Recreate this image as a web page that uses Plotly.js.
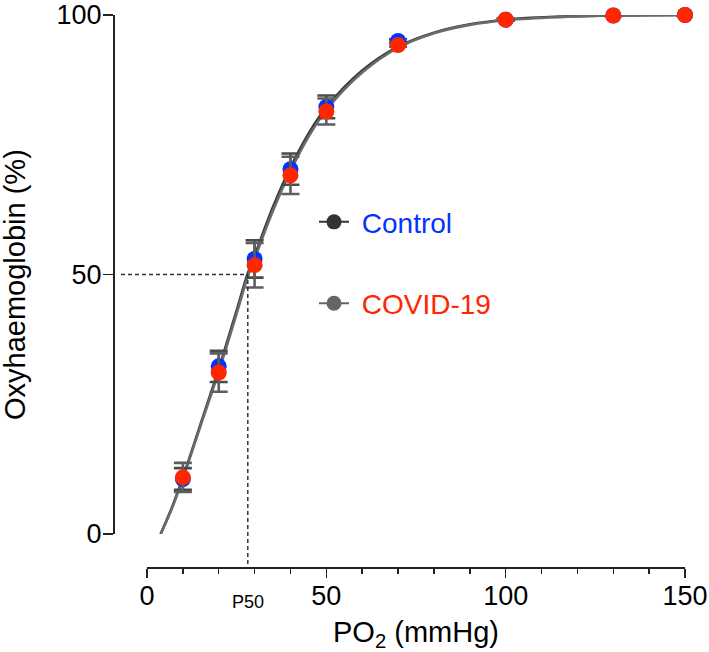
<!DOCTYPE html>
<html>
<head>
<meta charset="utf-8">
<script src="https://cdn.plot.ly/plotly-3.0.1.min.js"></script>
<style>html,body{margin:0;padding:0;background:#fff;}#chart{width:709px;height:652px;}</style>
</head>
<body>
<div id="chart"></div>
<script>
// ---- data ----
const po2 = [10, 20, 30, 40, 50, 70, 100, 130, 150];
const controlSat = [10.6, 32.3, 53.0, 70.3, 82.3, 95.0, 99.1, 99.9, 100];
const controlErr = [2.1, 3.0, 3.6, 3.0, 2.2, 0.3, 0.2, 0.1, 0.1];
const covidSat = [10.9, 31.1, 51.8, 69.1, 81.4, 94.2, 99.1, 99.9, 100];
const covidErr = [2.8, 3.7, 4.3, 3.6, 2.5, 0.3, 0.2, 0.1, 0.1];

const curveX = [3.8, 7, 10, 15, 20, 25, 28, 30, 35, 40, 45, 50, 60, 70, 80, 90, 100, 115, 130, 150];
const controlCurveY = [0, 5.2, 10.9, 21.3, 31.8, 43.1, 50.0, 53.6, 62.8, 70.6, 77.1, 82.2, 89.3, 93.9, 96.6, 98.2, 99.1, 99.7, 99.9, 100];
const covidCurveY   = [0, 5.0, 10.7, 21.0, 31.3, 42.5, 49.4, 53.0, 62.1, 69.9, 76.5, 81.7, 88.9, 93.7, 96.5, 98.1, 99.0, 99.6, 99.9, 100];

const p50 = 28.1;
const seriesNames = ['Control', 'COVID-19'];
const xTicks = [0, 50, 100, 150];
const yTicks = [0, 50, 100];
const xTitle = 'PO<sub>2</sub> (mmHg)';
const yTitle = 'Oxyhaemoglobin (%)';

// ---- layout constants ----
const W = 709, H = 652;
const M = {l: 113, r: 24, t: 15, b: 85};
const plotW = W - M.l - M.r, plotH = H - M.t - M.b;
const xDom0 = 34 / plotW, yDom0 = 33 / plotH;
const xRange = [0, 150], yRange = [0, 100];
const FONT = 'Liberation Sans, Arial, Helvetica, sans-serif';
const BLUE = '#0433FF', RED = '#FF2600';

function xPaper(v) { return xDom0 + (v - xRange[0]) / (xRange[1] - xRange[0]) * (1 - xDom0); }
function yPaper(v) { return yDom0 + (v - yRange[0]) / (yRange[1] - yRange[0]) * (1 - yDom0); }

const traces = [
  {x: curveX, y: controlCurveY, mode: 'lines', line: {color: '#3a3a3a', width: 2.6, shape: 'spline', smoothing: 1}, showlegend: false, hoverinfo: 'skip'},
  {x: curveX, y: covidCurveY, mode: 'lines', line: {color: '#6a6a6a', width: 2.6, shape: 'spline', smoothing: 1}, showlegend: false, hoverinfo: 'skip'},
  {x: po2, y: controlSat, mode: 'markers', marker: {color: BLUE, size: 16}, cliponaxis: false,
   error_y: {type: 'data', array: controlErr, visible: true, color: '#4a4a4a', thickness: 2.6, width: 9}, showlegend: false},
  {x: po2, y: covidSat, mode: 'markers', marker: {color: RED, size: 16}, cliponaxis: false,
   error_y: {type: 'data', array: covidErr, visible: true, color: '#5e5e5e', thickness: 2.6, width: 9}, showlegend: false},
  {x: [null], y: [null], mode: 'lines+markers', name: '<span style="color:' + BLUE + '">\u00a0' + seriesNames[0] + '</span>',
   legendgroup: 'a', marker: {color: '#333333', size: 15}, line: {color: '#333333', width: 2}},
  {x: [null], y: [null], mode: 'lines+markers', name: '<span style="color:' + RED + '">\u00a0' + seriesNames[1] + '</span>',
   legendgroup: 'b', marker: {color: '#666666', size: 15}, line: {color: '#666666', width: 2}}
];

const axisCommon = {
  showgrid: false, zeroline: false, showline: true, linecolor: '#222', linewidth: 1.5,
  ticks: 'outside', tickcolor: '#222', tickwidth: 1.5,
  tickfont: {family: FONT, size: 27, color: '#000'}, anchor: 'free', position: 0
};

const layout = {
  width: W, height: H, margin: M,
  paper_bgcolor: '#fff', plot_bgcolor: '#fff',
  font: {family: FONT, color: '#000'},
  xaxis: Object.assign({}, axisCommon, {
    domain: [xDom0, 1], range: xRange, tickvals: xTicks, ticklen: 9, ticklabelstandoff: -5,
    minor: {dtick: 10, ticks: 'outside', ticklen: 5, tickwidth: 1.5, tickcolor: '#222'},
    title: {text: xTitle, font: {family: FONT, size: 29}, standoff: 12}
  }),
  yaxis: Object.assign({}, axisCommon, {
    domain: [yDom0, 1], range: yRange, tickvals: yTicks, ticklen: 10, ticklabelstandoff: -4
  }),
  showlegend: true,
  legend: {x: 0.3514, y: 0.670, xanchor: 'left', yanchor: 'top', bgcolor: 'rgba(0,0,0,0)',
           font: {family: FONT, size: 28}, traceorder: 'grouped', tracegroupgap: 42},
  shapes: [
    {type: 'line', xref: 'paper', yref: 'paper', x0: 8 / plotW, x1: xPaper(p50), y0: yPaper(50), y1: yPaper(50),
     line: {color: '#333', width: 1.5, dash: '4px,3px'}},
    {type: 'line', xref: 'paper', yref: 'paper', x0: xPaper(p50), x1: xPaper(p50), y0: 3 / plotH, y1: yPaper(50),
     line: {color: '#333', width: 1.5, dash: '4px,3px'}}
  ],
  annotations: [
    {x: p50, xref: 'x', y: -35 / plotH, yref: 'paper', text: 'P50', showarrow: false,
     xanchor: 'center', yanchor: 'middle', font: {family: FONT, size: 18, color: '#000'}},
    {x: -98 / plotW, xref: 'paper', y: 282 / plotH, yref: 'paper', text: yTitle, textangle: -90, showarrow: false,
     xanchor: 'center', yanchor: 'middle', font: {family: FONT, size: 29, color: '#000'}}
  ]
};

Plotly.newPlot('chart', traces, layout, {displayModeBar: false, staticPlot: true});
</script>
</body>
</html>
